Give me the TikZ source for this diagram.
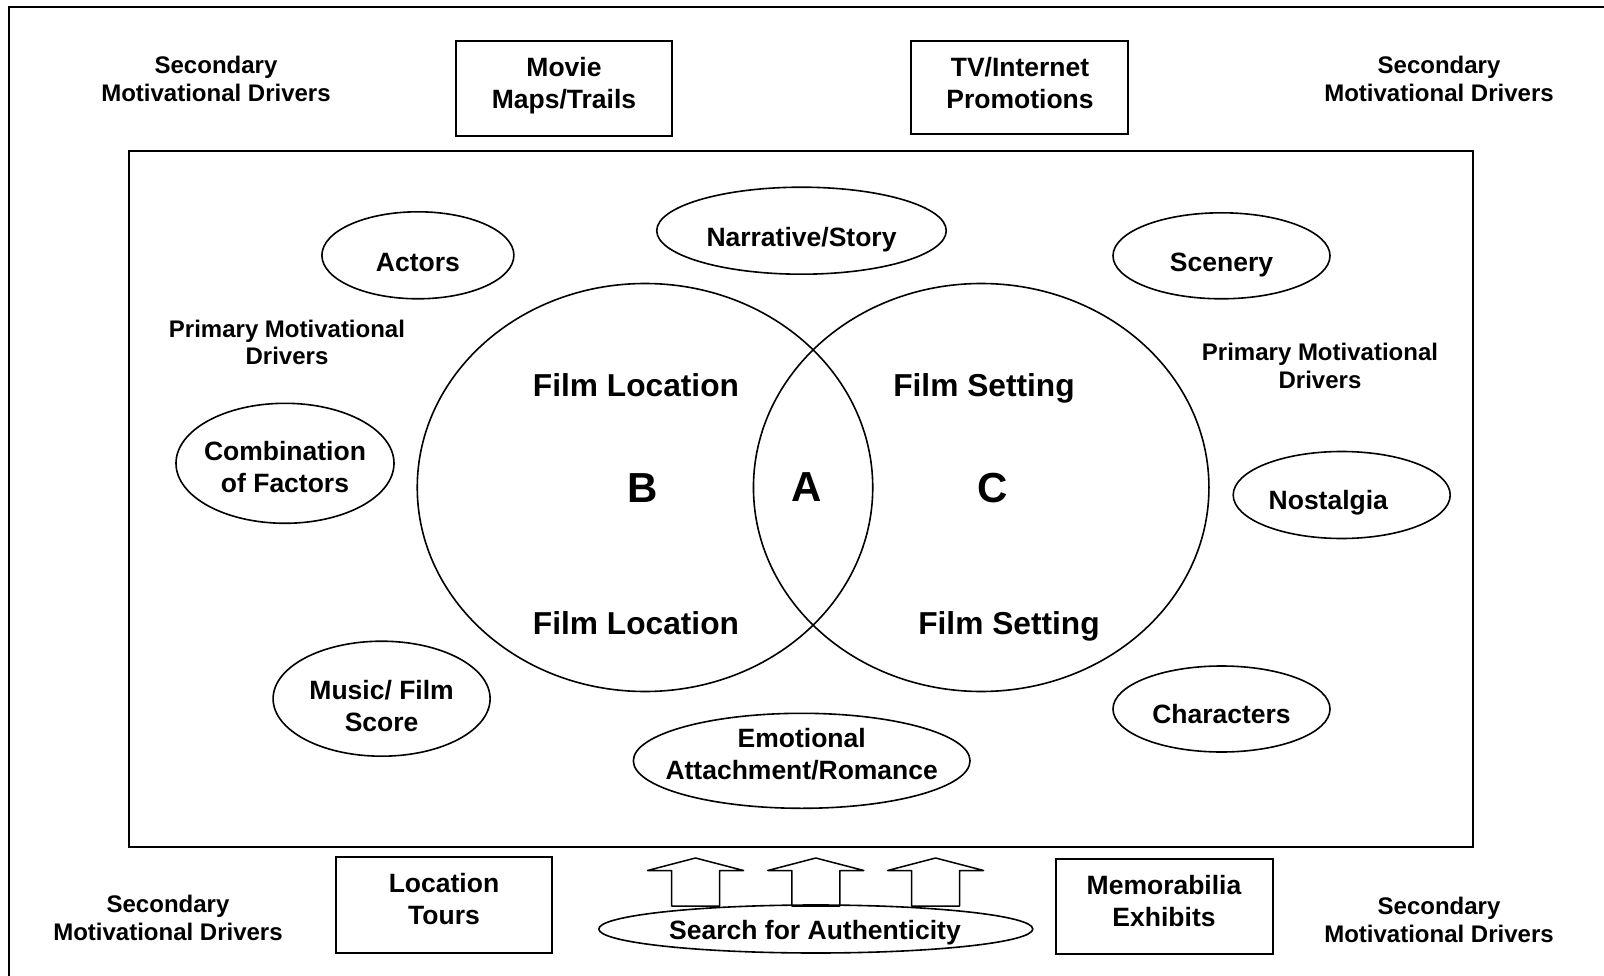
\documentclass[tikz,border=0pt]{standalone}
\usepackage{fontspec}
\setmainfont{Liberation Sans}
\usetikzlibrary{shapes.geometric}
\begin{document}
\begin{tikzpicture}[x=1pt,y=-1pt,
  bx/.style={draw, line width=2pt, inner sep=0pt},
  ell/.style={draw, ellipse, line width=1.6pt, inner sep=0pt},
  venn/.style={draw, ellipse, line width=1.6pt, inner sep=0pt, minimum width=455.5pt, minimum height=408pt},
  lbl/.style={font=\bfseries\fontsize{26.5}{32}\selectfont, align=center, inner sep=0pt},
  sm/.style={font=\bfseries\fontsize{24}{27.5}\selectfont, align=center, inner sep=0pt},
  film/.style={font=\bfseries\fontsize{31.7}{36}\selectfont, inner sep=0pt},
  big/.style={font=\bfseries\fontsize{42}{48}\selectfont, inner sep=0pt},
  blockarrow/.style={draw, line width=1.5pt, line join=round}
]
\useasboundingbox (0,0) rectangle (1604,976);
% outer border (only top and left visible)
\coordinate (obl) at (9,976);
\coordinate (otl) at (9,7);
\coordinate (otr) at (1604,7);
\draw[line width=2.5pt] (obl) -- (otl) -- (otr);

% secondary drivers
\node[sm] (secTL) at (216,79) {Secondary\\Motivational Drivers};
\node[sm] (secTR) at (1439,79) {Secondary\\Motivational Drivers};
\node[sm] (secBL) at (168,918) {Secondary\\Motivational Drivers};
\node[sm] (secBR) at (1439,920) {Secondary\\Motivational Drivers};

% boxes
\node[bx, minimum width=216pt, minimum height=95pt] (movie) at (564,88.5) {};
\node[lbl] (movieT) at (564,86) {Movie\\Maps/Trails};
\node[bx, minimum width=217pt, minimum height=93pt] (tv) at (1019.5,87.5) {};
\node[lbl] (tvT) at (1020,83.4) {TV/Internet\\Promotions};
\node[bx, minimum width=216pt, minimum height=96pt] (loc) at (444,905) {};
\node[lbl] (locT) at (444,899) {Location\\Tours};
\node[bx, minimum width=217pt, minimum height=95pt] (memo) at (1164.5,906.5) {};
\node[lbl] (memoT) at (1164,901) {Memorabilia\\Exhibits};

% inner frame
\node[bx, minimum width=1344pt, minimum height=696pt] (frame) at (801,499) {};

% primary drivers labels
\node[sm] (priL) at (287,342.5) {Primary Motivational\\Drivers};
\node[sm] (priR) at (1320,366) {Primary Motivational\\Drivers};

% Venn
\node[venn] (locC) at (645,487.5) {};
\node[venn] (setC) at (981.2,487.5) {};
\node[film] (fl1) at (636,385) {Film Location};
\node[film] (fl2) at (636,623) {Film Location};
\node[film] (fs1) at (984,388.3) {Film Setting};
\node[film] (fs2) at (1009,626.3) {Film Setting};
\node[big] (B) at (643,488) {B};
\node[big] (A) at (807,487) {A};
\node[big] (C) at (993,488) {C};

% ellipses
\node[ell, minimum width=192pt, minimum height=87pt] (actors) at (417.9,255.3) {};
\node[lbl] (actorsT) at (417.9,262.5) {Actors};
\node[ell, minimum width=289.5pt, minimum height=87pt] (narr) at (801.5,230.7) {};
\node[lbl] (narrT) at (801.5,240) {Narrative/Story};
\node[ell, minimum width=217pt, minimum height=86pt] (scen) at (1221.5,255.8) {};
\node[lbl] (scenT) at (1221.5,264.8) {Scenery};
\node[ell, minimum width=218pt, minimum height=120pt] (comb) at (285,463.3) {};
\node[lbl] (combT) at (285,466.7) {Combination\\of Factors};
\node[ell, minimum width=217pt, minimum height=87pt] (nost) at (1341.7,495) {};
\node[lbl] (nostT) at (1328.3,502.8) {Nostalgia};
\node[ell, minimum width=217pt, minimum height=115pt] (music) at (381.6,698.7) {};
\node[lbl] (musicT) at (381.6,706) {Music/ Film\\Score};
\node[ell, minimum width=217pt, minimum height=86pt] (chars) at (1221.5,709) {};
\node[lbl] (charsT) at (1221.5,714) {Characters};
\node[ell, minimum width=336.7pt, minimum height=95pt] (emo) at (801.7,760.8) {};
\node[lbl] (emoT) at (801.7,754) {Emotional\\Attachment/Romance};
\node[ell, minimum width=434pt, minimum height=48pt] (search) at (815.8,929) {};
\node[lbl] (searchT) at (815,933) {Search for Authenticity};

% block arrows rising from the search ellipse
\foreach \n/\cx in {1/695.5, 2/815.8, 3/935.6}{
  \coordinate (ar\n) at (\cx,906);
  \draw[blockarrow] (ar\n) ++(-24,0) -- ++(0,-35.5) -- ++(-24,0) -- ++(48,-12.5)
     -- ++(48,12.5) -- ++(-24,0) -- ++(0,35.5) -- cycle;
}
\end{tikzpicture}
\end{document}
